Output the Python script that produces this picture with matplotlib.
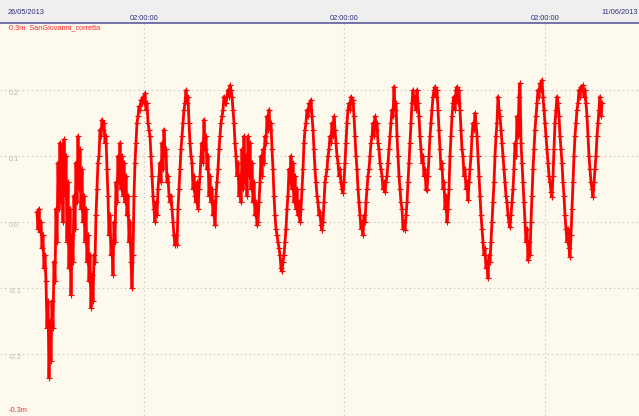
import numpy as np
import matplotlib.pyplot as plt

# sampling of the tide gauge trace (hours from 26/05/2013 00:00)
START_H = 22.2
STEP_H = 0.6

# water level (m), one reading per sample
level = [
    0.015, -0.01, 0.02,
    -0.015, 0.0, -0.04, -0.02, -0.07, -0.05, -0.09, -0.16, -0.12, -0.236,
    -0.15, -0.21, -0.12, -0.16, -0.06, -0.09, 0.02, -0.03, 0.09, 0.02,
    0.12, 0.03, 0.115, 0.0, 0.125, 0.04, 0.10, -0.03, 0.06, -0.07,
    0.02, -0.11, -0.02, -0.06, 0.04, -0.01, 0.09, 0.03, 0.13, 0.05,
    0.11, 0.02, 0.08, 0.0, 0.04, -0.03, 0.02, -0.06, -0.02, -0.09,
    -0.05, -0.13, -0.08, -0.12, -0.05, -0.06, 0.01, 0.05, 0.09, 0.10,
    0.14, 0.13, 0.155, 0.14, 0.15, 0.12, 0.13, 0.08, 0.04, -0.02,
    0.01, -0.05, -0.03, -0.08, 0.0, -0.03, 0.06, 0.03, 0.10, 0.06,
    0.12, 0.05, 0.10, 0.04, 0.09, 0.03, 0.07, 0.01, 0.04, -0.03,
    0.0, -0.06, -0.10, -0.05, 0.04, 0.09, 0.12, 0.15, 0.16, 0.175,
    0.17, 0.185, 0.18, 0.19, 0.18, 0.195, 0.17, 0.18, 0.15, 0.14,
    0.13, 0.10, 0.07, 0.04, 0.02, 0.0, 0.03, 0.01, 0.05, 0.07,
    0.09, 0.06, 0.12, 0.08, 0.14, 0.10, 0.11, 0.06, 0.07, 0.04,
    0.03, 0.04, 0.02, 0.0, -0.02, -0.035, -0.02, -0.035, 0.02, 0.05,
    0.08, 0.11, 0.13, 0.15, 0.17, 0.18, 0.2, 0.18, 0.19, 0.15,
    0.12, 0.10, 0.09, 0.05, 0.07, 0.04, 0.03, 0.06, 0.02, 0.05,
    0.07, 0.10, 0.12, 0.09, 0.155, 0.11, 0.13, 0.08, 0.10, 0.04,
    0.07, 0.03, 0.05, 0.01, 0.03, -0.005, 0.04, 0.06, 0.08, 0.11,
    0.13, 0.15, 0.16, 0.17, 0.19, 0.18, 0.18, 0.19, 0.2, 0.19,
    0.207, 0.2, 0.19, 0.17, 0.15, 0.12, 0.1, 0.07, 0.09, 0.04,
    0.07, 0.03, 0.11, 0.05, 0.13, 0.06, 0.10, 0.04, 0.13, 0.07,
    0.12, 0.05, 0.09, 0.03, 0.06, 0.01, 0.03, -0.005, 0.0, 0.03,
    0.06, 0.1, 0.07, 0.11, 0.09, 0.13, 0.12, 0.16, 0.14, 0.17,
    0.14, 0.15, 0.11, 0.08, 0.04, 0.01, -0.01, -0.02, -0.03, -0.04,
    -0.05, -0.07, -0.075, -0.06, -0.05, -0.03, -0.01, 0.02, 0.04, 0.08,
    0.06, 0.1, 0.05, 0.09, 0.03, 0.07, 0.02, 0.05, 0.01, 0.03,
    0.0, 0.02, 0.05, 0.08, 0.12, 0.14, 0.15, 0.17, 0.16, 0.18,
    0.17, 0.185, 0.16, 0.14, 0.11, 0.08, 0.06, 0.04, 0.03, 0.01,
    0.015, -0.005, -0.012, 0.0, 0.03, 0.06, 0.07, 0.08, 0.1, 0.11,
    0.13, 0.12, 0.15, 0.13, 0.16, 0.14, 0.12, 0.1, 0.09, 0.07,
    0.08, 0.06, 0.05, 0.044, 0.06, 0.09, 0.12, 0.15, 0.17, 0.18,
    0.17, 0.19, 0.18, 0.185, 0.16, 0.13, 0.1, 0.08, 0.05, 0.03,
    0.01, -0.01, 0.0, -0.02, 0.01, 0.0, 0.03, 0.05, 0.07, 0.08,
    0.1, 0.12, 0.13, 0.15, 0.13, 0.16, 0.14, 0.15, 0.12, 0.11,
    0.09, 0.08, 0.07, 0.05, 0.06, 0.045, 0.06, 0.07, 0.09, 0.11,
    0.13, 0.15, 0.17, 0.16, 0.205, 0.17, 0.18, 0.13, 0.1, 0.07,
    0.05, 0.03, 0.02, -0.01, 0.0, -0.012, 0.01, 0.03, 0.06, 0.09,
    0.12, 0.15, 0.18, 0.2, 0.18, 0.19, 0.17, 0.2, 0.18, 0.16,
    0.13, 0.11, 0.09, 0.1, 0.07, 0.08, 0.05, 0.048, 0.07, 0.1,
    0.13, 0.15, 0.17, 0.19, 0.2, 0.205, 0.19, 0.2, 0.17, 0.14,
    0.11, 0.08, 0.09, 0.05, 0.06, 0.02, 0.04, 0.0, 0.02, 0.05,
    0.1, 0.13, 0.16, 0.18, 0.19, 0.17, 0.2, 0.205, 0.18, 0.2,
    0.17, 0.14, 0.11, 0.1, 0.07, 0.08, 0.05, 0.06, 0.033, 0.06,
    0.08, 0.1, 0.13, 0.15, 0.14, 0.165, 0.15, 0.13, 0.1, 0.07,
    0.04, 0.01, -0.01, -0.03, -0.05, -0.04, -0.07, -0.06, -0.085, -0.05,
    -0.06, -0.03, 0.0, 0.03, 0.06, 0.1, 0.13, 0.15, 0.19, 0.17,
    0.16, 0.14, 0.12, 0.1, 0.08, 0.06, 0.04, 0.03, 0.01, 0.0,
    -0.008, 0.01, 0.03, 0.05, 0.08, 0.12, 0.1, 0.16, 0.13, 0.19,
    0.21, 0.12, 0.09, 0.06, 0.03, 0.0, -0.03, -0.01, -0.058, -0.03,
    -0.05, 0.0, 0.04, 0.08, 0.11, 0.14, 0.16, 0.18, 0.2, 0.19,
    0.21, 0.2, 0.215, 0.19, 0.17, 0.15, 0.13, 0.11, 0.09, 0.07,
    0.06, 0.045, 0.038, 0.07, 0.11, 0.15, 0.17, 0.19, 0.18, 0.16,
    0.13, 0.11, 0.09, 0.06, 0.04, 0.01, -0.01, -0.03, -0.01, -0.04,
    -0.053, -0.02, 0.02, 0.06, 0.1, 0.13, 0.15, 0.17, 0.18, 0.2,
    0.19, 0.205, 0.2, 0.207, 0.19, 0.2, 0.18, 0.16, 0.13, 0.1,
    0.08, 0.06, 0.05, 0.038, 0.06, 0.08, 0.1, 0.13, 0.15, 0.17,
    0.19, 0.16, 0.18,
]

y_ticks = [0.2, 0.1, 0.0, -0.1, -0.2]
y_tick_labels = ["0.2", "0.1", "0.0", "-0.1", "-0.2"]
time_grid_h = [86.4, 206.5, 327.0]
time_grid_labels = ["02:00:00", "02:00:00", "02:00:00"]
start_label = "26/05/2013"
end_label = "11/06/2013"
series_name = "0.3m  SanGiovanni_corretta"
bottom_label = "-0.3m"

X_MAX_H = 383.4
Y_MIN, Y_MAX = -0.294, 0.3015

hours = START_H + STEP_H * np.arange(len(level))

plt.rcParams["font.family"] = ["Liberation Sans", "DejaVu Sans"]

fig = plt.figure(figsize=(6.39, 4.16), dpi=100)
fig.patch.set_facecolor("#efefef")

ax = fig.add_axes([0, 0, 1, 1 - 23 / 416])
ax.set_facecolor("#fef9ed")
ax.set_xlim(0, X_MAX_H)
ax.set_ylim(Y_MIN, Y_MAX)
ax.set_xticks([])
ax.set_yticks([])
for side in ["left", "right", "bottom"]:
    ax.spines[side].set_visible(False)
ax.spines["top"].set_color("#5c5c9c")
ax.spines["top"].set_linewidth(1.2)

# grid
for yv in y_ticks:
    ax.axhline(yv, color="#cfcfcf", lw=0.8, ls=(0, (1.5, 2.5)), zorder=1)
for xv in time_grid_h:
    ax.axvline(xv, color="#cfcfcf", lw=0.8, ls=(0, (1.5, 2.5)), zorder=1)

# level labels inside the plot
for yv, lab in zip(y_ticks, y_tick_labels):
    ax.text(9 / 639 * X_MAX_H, yv - 0.0055, lab, color="#b9b9b9",
            fontsize=5.3, va="center", ha="left")

ax.text(9 / 639 * X_MAX_H, 0.294, series_name, color="#ff2a2a",
        fontsize=5.3, va="center", ha="left")
ax.text(9 / 639 * X_MAX_H, -0.286, bottom_label, color="#ff2a2a",
        fontsize=5.3, va="center", ha="left")

# the trace
ax.plot(hours, level, color="#ff0000", lw=2.0, marker="+", ms=5,
        mew=0.8, zorder=3)

# header with dates and times
fig.text(8 / 639, 1 - 13 / 416, start_label, color="#30307a",
         fontsize=5.3, va="center", ha="left")
fig.text(638 / 639, 1 - 13 / 416, end_label, color="#30307a",
         fontsize=5.3, va="center", ha="right")
for xv, lab in zip(time_grid_h, time_grid_labels):
    fig.text(xv / X_MAX_H, 1 - 19 / 416, lab, color="#30307a",
             fontsize=5.3, va="center", ha="center")

fig.savefig("out.png", dpi=100, facecolor=fig.get_facecolor())
